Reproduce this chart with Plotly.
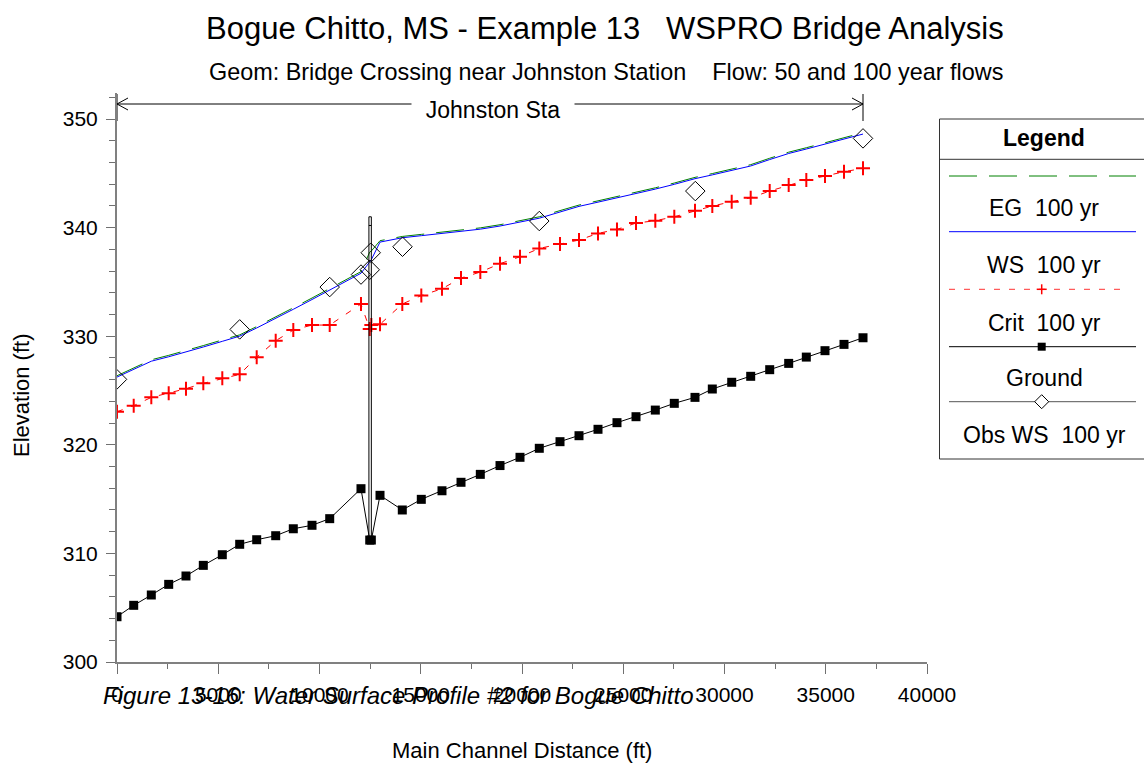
import plotly.graph_objects as go

# ---------------- data ----------------
station = [0, 825, 1694, 2553, 3407, 4262, 5200, 6059, 6899, 7837, 8706, 9630, 10504, 12049,
           12480, 12560,
           12988, 14089, 15027, 16049, 16988, 17941, 18914, 19901, 20854, 21877, 22815, 23753,
           24691, 25630, 26583, 27521, 28543, 29398, 30356, 31294, 32232, 33170, 34040, 34963,
           35901, 36840]
ground = [304.17, 305.22, 306.17, 307.15, 307.92, 308.90, 309.88, 310.84, 311.26, 311.63, 312.27,
          312.59, 313.20, 315.96,
          311.23, 311.23,
          315.35, 314.00, 314.98, 315.77, 316.55, 317.28, 318.09, 318.85, 319.68, 320.29, 320.84,
          321.43, 322.04, 322.59, 323.20, 323.82, 324.37, 325.14, 325.76, 326.31, 326.92, 327.50,
          328.08, 328.67, 329.25, 329.86]
crit = [323.05, 323.60, 324.37, 324.74, 325.17, 325.66, 326.12, 326.49, 328.06, 329.59, 330.57,
        331.03, 331.03, 332.97,
        330.66, 331.03,
        331.10, 332.97, 333.75, 334.37, 335.36, 335.91, 336.68, 337.32, 338.09, 338.49, 338.86,
        339.47, 339.84, 340.42, 340.64, 341.00, 341.56, 341.99, 342.39, 342.75, 343.37, 343.92,
        344.38, 344.75, 345.15, 345.46]
ws = [326.24, 326.94, 327.70, 328.11, 328.54, 329.01, 329.53, 330.01, 330.76, 331.62, 332.48,
      333.38, 334.24, 335.80,
      336.85, 337.05,
      338.67, 339.07, 339.26, 339.48, 339.67, 339.86, 340.15, 340.52, 340.87, 341.44, 341.96,
      342.35, 342.73, 343.11, 343.55, 343.99, 344.51, 344.86, 345.26, 345.68, 346.27, 346.83,
      347.24, 347.67, 348.16, 348.62]
eg = [326.36, 327.06, 327.83, 328.24, 328.67, 329.14, 329.66, 330.13, 330.89, 331.75, 332.62,
      333.52, 334.38, 335.95,
      337.75, 337.85,
      338.80, 339.19, 339.38, 339.60, 339.79, 339.98, 340.27, 340.64, 341.00, 341.57, 342.08,
      342.47, 342.85, 343.23, 343.67, 344.11, 344.63, 344.98, 345.38, 345.80, 346.39, 346.95,
      347.36, 347.79, 348.28, 348.74]
obs_station = [0, 6059, 10504, 12049, 12530, 12480, 14099, 20854, 28558, 36840]
obs_ws = [326.03, 330.63, 334.53, 335.68, 337.69, 336.12, 338.24, 340.61, 343.37, 348.22]

bridge_station = [12440, 12560]
bridge_deck = 341.0
bridge_low = 340.2
bridge_bed = 311.2

reach_name = "Johnston Sta"
x_ticks = [0, 5000, 10000, 15000, 20000, 25000, 30000, 35000, 40000]
y_ticks = [300, 310, 320, 330, 340, 350]

title = "Bogue Chitto, MS - Example 13\u00a0\u00a0\u00a0WSPRO Bridge Analysis"
subtitle = ("Geom: Bridge Crossing near Johnston Station\u00a0\u00a0\u00a0\u00a0"
            "Flow: 50 and 100 year flows")
caption = "Figure 13-16: Water Surface Profile #2 for Bogue Chitto"
legend_labels = ["EG\u00a0\u00a0100 yr", "WS\u00a0\u00a0100 yr", "Crit\u00a0\u00a0100 yr",
                 "Ground", "Obs WS\u00a0\u00a0100 yr"]

# ---------------- layout geometry ----------------
FONT = "Liberation Sans, Arial, sans-serif"
W, H = 1144, 768
L, R, T, B = 117, 217, 93, 106
PW, PH = W - L - R, H - T - B
XMAX = 40000
YMIN, YMAX = 300, 352.4
FT_PER_PX = XMAX / PW
EL_PER_PX = (YMAX - YMIN) / PH


def px(xp):
    return (xp - L) / PW


def py(yp):
    return (H - B - yp) / PH


fig = go.Figure()

fig.add_trace(go.Scatter(x=station, y=eg, mode="lines",
                         line=dict(color="#008000", width=1, dash="28px,12px"),
                         name="EG 100 yr"))
fig.add_trace(go.Scatter(x=station, y=ws, mode="lines",
                         line=dict(color="#0000ff", width=1), name="WS 100 yr"))
fig.add_trace(go.Scatter(x=station, y=crit, mode="lines+markers",
                         line=dict(color="#ff0000", width=1, dash="6px,9px"),
                         marker=dict(symbol="cross-thin", size=10,
                                     line=dict(color="#ff0000", width=2)),
                         name="Crit 100 yr"))
fig.add_trace(go.Scatter(x=station, y=ground, mode="lines+markers",
                         line=dict(color="#000000", width=1),
                         marker=dict(symbol="square", size=9, color="#000000"),
                         name="Ground"))
fig.add_trace(go.Scatter(x=obs_station, y=obs_ws, mode="markers",
                         marker=dict(symbol="diamond-open", size=15, color="#000000",
                                     line=dict(width=1)),
                         name="Obs WS 100 yr"))

shapes = []
# bridge
shapes.append(dict(type="rect", xref="x", yref="y", x0=bridge_station[0], x1=bridge_station[1],
                   y0=bridge_bed, y1=bridge_deck, line=dict(color="#000000", width=1)))
shapes.append(dict(type="line", xref="x", yref="y", x0=bridge_station[0], x1=bridge_station[1],
                   y0=bridge_low, y1=bridge_low, line=dict(color="#000000", width=1)))

# reach arrow
rs, re_ = min(station), max(station)
ry = YMIN + (H - B - 104) * EL_PER_PX
ay = 6 * EL_PER_PX
ax = 11 * FT_PER_PX
ytop = YMIN + (H - B - 94) * EL_PER_PX
ybot = YMIN + (H - B - 121) * EL_PER_PX
shapes.append(dict(type="line", xref="x", yref="y", x0=rs, x1=re_, y0=ry, y1=ry,
                   line=dict(color="#000000", width=1)))
for xe, sgn in ((rs, 1), (re_, -1)):
    shapes.append(dict(type="line", xref="x", yref="y", x0=xe, x1=xe, y0=ybot, y1=ytop,
                       line=dict(color="#000000", width=1)))
    shapes.append(dict(type="path", xref="x", yref="y",
                       path=f"M {xe + sgn*ax},{ry + ay} L {xe},{ry} L {xe + sgn*ax},{ry - ay}",
                       line=dict(color="#000000", width=1)))

# legend box
shapes.append(dict(type="rect", xref="paper", yref="paper", x0=px(939.5), x1=px(1170),
                   y0=py(459), y1=py(119), line=dict(color="#333333", width=1)))
shapes.append(dict(type="line", xref="paper", yref="paper", x0=px(939.5), x1=px(1170),
                   y0=py(159.3), y1=py(159.3), line=dict(color="#333333", width=1)))
lx0, lx1, lxm = px(949), px(1136), 1041.7
shapes.append(dict(type="line", xref="paper", yref="paper", x0=lx0, x1=lx1, y0=py(176), y1=py(176),
                   line=dict(color="#008000", width=1, dash="28px,12px")))
shapes.append(dict(type="line", xref="paper", yref="paper", x0=lx0, x1=lx1, y0=py(231.7),
                   y1=py(231.7), line=dict(color="#0000ff", width=1)))
shapes.append(dict(type="line", xref="paper", yref="paper", x0=lx0, x1=px(1126), y0=py(289.3),
                   y1=py(289.3), line=dict(color="#ff3333", width=1, dash="6px,9px")))
shapes.append(dict(type="line", xref="paper", yref="paper", x0=px(lxm - 5), x1=px(lxm + 5),
                   y0=py(289.3), y1=py(289.3), line=dict(color="#ff0000", width=1.5)))
shapes.append(dict(type="line", xref="paper", yref="paper", x0=px(lxm), x1=px(lxm),
                   y0=py(284.3), y1=py(294.3), line=dict(color="#ff0000", width=1.5)))
shapes.append(dict(type="line", xref="paper", yref="paper", x0=lx0, x1=lx1, y0=py(346.7),
                   y1=py(346.7), line=dict(color="#000000", width=1)))
shapes.append(dict(type="rect", xref="paper", yref="paper", x0=px(lxm - 4), x1=px(lxm + 4),
                   y0=py(350.7), y1=py(342.7), fillcolor="#000000",
                   line=dict(color="#000000", width=0)))
shapes.append(dict(type="line", xref="paper", yref="paper", x0=lx0, x1=lx1, y0=py(401.7),
                   y1=py(401.7), line=dict(color="#555555", width=1)))
d = 7
shapes.append(dict(type="path", xref="paper", yref="paper",
                   path=(f"M {px(lxm - d)},{py(401.7)} L {px(lxm)},{py(401.7 - d)} "
                         f"L {px(lxm + d)},{py(401.7)} L {px(lxm)},{py(401.7 + d)} Z"),
                   fillcolor="#ffffff", line=dict(color="#000000", width=1)))

TXT = dict(family=FONT, color="#000000")
annotations = []
annotations.append(dict(text=title, xref="paper", yref="paper", x=px(605), y=py(28),
                        xanchor="center", yanchor="middle", showarrow=False,
                        font=dict(TXT, size=31)))
annotations.append(dict(text=subtitle, xref="paper", yref="paper", x=px(606), y=py(72),
                        xanchor="center", yanchor="middle", showarrow=False,
                        font=dict(TXT, size=23.4)))
annotations.append(dict(text="\u00a0\u00a0" + reach_name + "\u00a0\u00a0", xref="x", yref="y",
                        x=(rs + re_) / 2 + 150, y=YMIN + (H - B - 110) * EL_PER_PX,
                        xanchor="center", yanchor="middle", showarrow=False, bgcolor="#ffffff",
                        font=dict(TXT, size=23)))
annotations.append(dict(text="Elevation (ft)", xref="paper", yref="paper", x=px(22), y=py(395),
                        xanchor="center", yanchor="middle", textangle=-90, showarrow=False,
                        font=dict(TXT, size=22)))
annotations.append(dict(text="Main Channel Distance (ft)", xref="paper", yref="paper", x=px(522),
                        y=py(750), xanchor="center", yanchor="middle", showarrow=False,
                        font=dict(TXT, size=22)))
annotations.append(dict(text="<i>" + caption + "</i>", xref="paper", yref="paper", x=px(101),
                        y=py(695), xanchor="left", yanchor="middle", showarrow=False,
                        font=dict(TXT, size=24)))
annotations.append(dict(text="<b>Legend</b>", xref="paper", yref="paper", x=px(1044), y=py(138),
                        xanchor="center", yanchor="middle", showarrow=False,
                        font=dict(TXT, size=23)))
for lab, yy in zip(legend_labels, [208.3, 265, 322.7, 378.3, 435]):
    annotations.append(dict(text=lab, xref="paper", yref="paper", x=px(1044), y=py(yy),
                            xanchor="center", yanchor="middle", showarrow=False,
                            font=dict(TXT, size=23)))

fig.update_layout(
    width=W, height=H, margin=dict(l=L, r=R, t=T, b=B, pad=0),
    paper_bgcolor="#ffffff", plot_bgcolor="#ffffff", showlegend=False,
    font=dict(family=FONT, size=21, color="#000000"),
    shapes=shapes, annotations=annotations,
    xaxis=dict(range=[0, XMAX], tickvals=x_ticks, ticktext=[str(v) for v in x_ticks],
               ticks="outside", ticklen=10, tickwidth=1, tickcolor="#707070",
               minor=dict(dtick=2500, tick0=0, ticks="outside", ticklen=5, tickcolor="#707070"),
               showline=True, linecolor="#808080", linewidth=2, showgrid=False, zeroline=False,
               ticklabelstandoff=3, tickfont=dict(family=FONT, size=21)),
    yaxis=dict(range=[YMIN, YMAX], tickvals=y_ticks, ticktext=[str(v) for v in y_ticks],
               ticks="outside", ticklen=9, tickwidth=1, tickcolor="#707070",
               minor=dict(dtick=2, tick0=300, ticks="outside", ticklen=6, tickcolor="#707070"),
               showline=True, linecolor="#808080", linewidth=2, showgrid=False, zeroline=False,
               ticklabelstandoff=4, tickfont=dict(family=FONT, size=21)),
)

fig.write_html("out.html", config={"displayModeBar": False},
               post_script="document.body.style.margin='0';document.body.style.overflow='hidden';")
